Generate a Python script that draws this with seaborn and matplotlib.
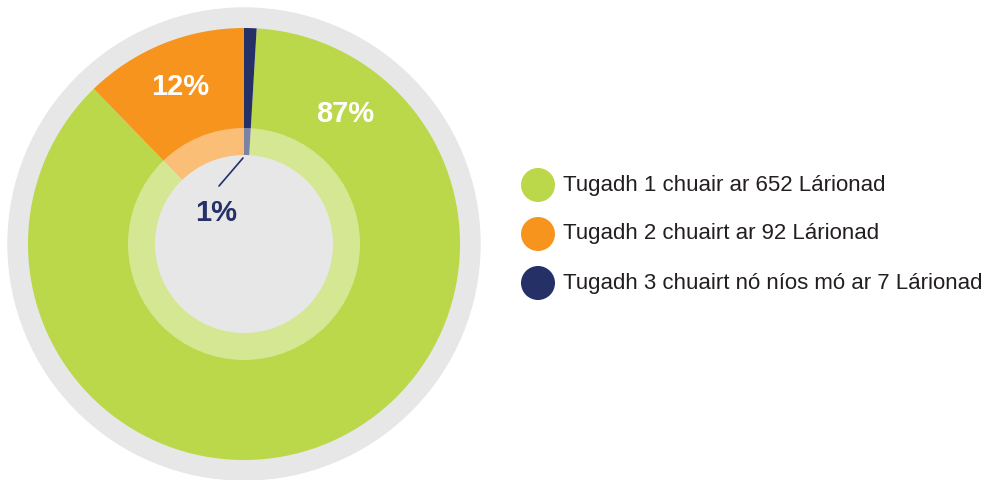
import numpy as np
import pandas as pd
import matplotlib
matplotlib.use("Agg")
import matplotlib.pyplot as plt
import seaborn as sns
from matplotlib.patches import Circle

# data
labels = ["Tugadh 1 chuair ar 652 Lárionad",
          "Tugadh 2 chuairt ar 92 Lárionad",
          "Tugadh 3 chuairt nó níos mó ar 7 Lárionad"]
counts = [652, 92, 7]
pct_labels = ["87%", "12%", "1%"]
colors = ["#bad84a", "#f7941d", "#253066"]

sns.set_theme(style="white")
plt.rcParams['font.family'] = ['Liberation Sans', 'DejaVu Sans']

fig = plt.figure(figsize=(9.84, 4.8), dpi=100)
ax = fig.add_axes([0, 0, 1, 1])

cx, cy = 244, 236

# grey backdrop
ax.add_patch(Circle((cx, cy), 236, color="#e7e7e8", zorder=0))

# pie: orange first, then green, then navy (counter-clockwise from 12 o'clock)
order = [1, 0, 2]
ax.pie([counts[i] for i in order], colors=[colors[i] for i in order],
       startangle=90, counterclock=True, radius=216, center=(cx, cy),
       wedgeprops=dict(linewidth=0), frame=True)
ax.set_xlim(0, 984)
ax.set_ylim(0, 480)
ax.set_aspect('equal')

# inner translucent ring + grey centre
ax.add_patch(Circle((cx, cy), 116, color="white", alpha=0.4, lw=0, zorder=3))
ax.add_patch(Circle((cx, cy), 89, color="#e7e7e8", lw=0, zorder=4))

# percentage labels
ax.text(345, 480 - 114, pct_labels[0], color="white", fontsize=21,
        fontweight="bold", ha="center", va="center", zorder=5)
ax.text(180, 480 - 87, pct_labels[1], color="white", fontsize=21,
        fontweight="bold", ha="center", va="center", zorder=5)
ax.plot([243, 219], [480 - 158, 480 - 186], color=colors[2], lw=1.2, zorder=5)
ax.text(216, 480 - 213, pct_labels[2], color=colors[2], fontsize=21,
        fontweight="bold", ha="center", va="center", zorder=5)

# legend
leg = pd.DataFrame({"x": [538, 538, 538], "y": [480 - 185, 480 - 234, 480 - 283],
                    "label": labels})
sns.scatterplot(data=leg, x="x", y="y", hue="label", palette=colors,
                s=600, linewidth=0, legend=False, ax=ax, zorder=5)
for yy, lab in zip(leg["y"], labels):
    ax.text(563, yy, lab, fontsize=16, color="#231f20", va="center", ha="left")

ax.set_xlabel("")
ax.set_ylabel("")
ax.axis('off')

plt.savefig("out.png", dpi=100, facecolor="white")
